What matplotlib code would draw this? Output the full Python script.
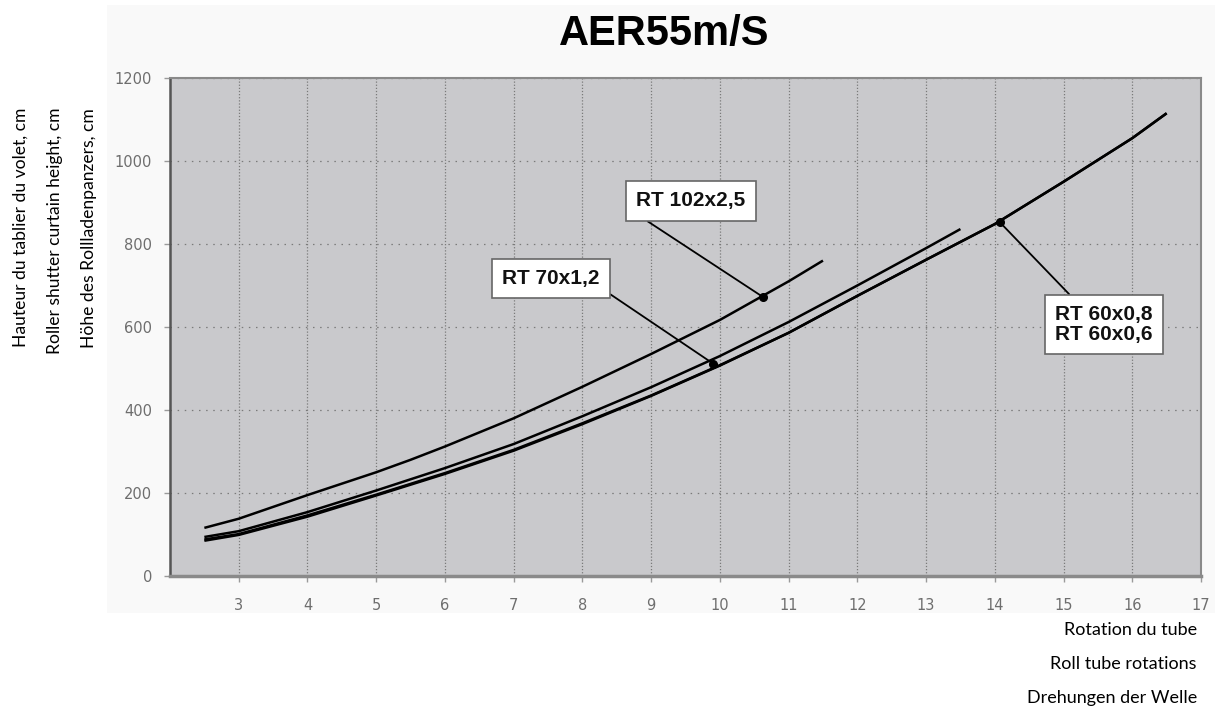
import matplotlib
matplotlib.use("Agg")
import matplotlib.pyplot as plt
from matplotlib.patches import Rectangle

# curve data (rotations -> curtain height in cm)
rt102_x = [2.5, 3, 4, 5, 5.5, 6, 7, 8, 9, 10, 11, 11.5]
rt102_y = [116, 138, 195, 250, 280, 312, 380, 456, 535, 617, 710, 760]

rt70_x = [2.5, 3, 4, 5, 6, 7, 8, 9, 10, 11, 12, 13, 13.5]
rt70_y = [94, 108, 154, 206, 260, 318, 385, 455, 530, 612, 700, 790, 836]

rt60_08_x = [2.5, 3, 4, 5, 6, 7, 8, 9, 10, 11, 12, 13, 14, 15, 16, 16.5]
rt60_08_y = [88, 101, 146, 196, 248, 304, 368, 435, 508, 586, 675, 762, 848, 950, 1055, 1115]

rt60_06_x = [2.5, 3, 4, 5, 6, 7, 8, 9, 10, 11, 12, 13, 14, 15, 16, 16.5]
rt60_06_y = [85, 99, 143, 194, 246, 302, 366, 434, 507, 586, 675, 762, 848, 950, 1055, 1115]

# marked points and their callouts
mark_x = [10.63, 9.9, 14.07]
mark_y = [672, 512, 853]
labels = ["RT 102x2,5", "RT 70x1,2", "RT 60x0,8\nRT 60x0,6"]
label_x = [9.58, 7.54, 15.59]
label_y = [904, 717, 606]
label_relpos = [(-0.05, 0.0), (1.0, 0.05), (0.25, 1.0)]

xticks = list(range(3, 18))
yticks = [0, 200, 400, 600, 800, 1000, 1200]

W, H = 1215, 706
fig = plt.figure(figsize=(W / 100, H / 100), dpi=100)
fig.patch.set_facecolor("white")

# faint backdrop of the pasted chart image
back = Rectangle((107 / W, 1 - 613 / H), 1 - 107 / W, (613 - 5) / H,
                 transform=fig.transFigure, facecolor="#f9f9f9",
                 edgecolor="none", zorder=-10)
fig.add_artist(back)

ax = fig.add_axes([170 / W, 1 - 576 / H, (1201 - 170) / W, (576 - 78) / H])
ax.set_facecolor("#c9c9cc")
ax.set_xlim(2, 17)
ax.set_ylim(0, 1200)
ax.set_xticks(xticks)
ax.set_yticks(yticks)

ax.grid(axis="x", color="#7a7a7a", linestyle=(0, (1, 1.5)), linewidth=0.9)
ax.grid(axis="y", color="#7a7a7a", linestyle=(0, (1.2, 4.5)), linewidth=0.9)
ax.set_axisbelow(True)

for side in ["top", "right"]:
    ax.spines[side].set_color("#8a8a8a")
    ax.spines[side].set_linewidth(1.5)
ax.spines["left"].set_color("#555555")
ax.spines["left"].set_linewidth(1.8)
ax.spines["bottom"].set_color("#8a8a8a")
ax.spines["bottom"].set_linewidth(2.5)

ax.tick_params(axis="both", colors="#9a9a9a", labelcolor="#6e6e6e",
               labelsize=10.5, length=4, width=1)
ax.tick_params(axis="y", pad=9)
ax.tick_params(axis="x", pad=12)

lw = 1.8
ax.plot(rt102_x, rt102_y, color="black", lw=lw, solid_capstyle="butt")
ax.plot(rt70_x, rt70_y, color="black", lw=lw, solid_capstyle="butt")
ax.plot(rt60_08_x, rt60_08_y, color="black", lw=lw, solid_capstyle="butt")
ax.plot(rt60_06_x, rt60_06_y, color="black", lw=lw, solid_capstyle="butt")

ax.plot(mark_x, mark_y, "o", color="black", markersize=5.5, zorder=5)

for txt, tx, ty, mx, my, rp in zip(labels, label_x, label_y, mark_x, mark_y, label_relpos):
    ax.annotate(txt, xy=(mx, my), xytext=(tx, ty),
                ha="center", va="center", fontsize=15, fontweight="bold",
                family=["Liberation Sans", "DejaVu Sans"], color="#111111",
                linespacing=1.05,
                bbox=dict(boxstyle="square,pad=0.5", facecolor="white",
                          edgecolor="#666666", linewidth=1.2),
                arrowprops=dict(arrowstyle="-", color="black", lw=1.3,
                                shrinkA=0, shrinkB=0, relpos=rp),
                zorder=6)

fig.text(664 / W, 1 - 34 / H, "AER55m/S", ha="center", va="center",
         fontsize=30, fontweight="bold", family="Liberation Sans")

ylabels = ["Hauteur du tablier du volet, cm",
           "Roller shutter curtain height, cm",
           "Höhe des Rollladenpanzers, cm"]
for i, s in enumerate(ylabels):
    fig.text((21 + 34 * i) / W, 1 - 108 / H, s, rotation=90, ha="center",
             va="top", fontsize=12.6, family="Lato")

xlabels = ["Rotation du tube", "Roll tube rotations", "Drehungen der Welle"]
for i, s in enumerate(xlabels):
    fig.text(1197 / W, 1 - (630 + 34 * i) / H, s, ha="right", va="center",
             fontsize=13, family="Lato")

fig.savefig("out.png", dpi=100)
